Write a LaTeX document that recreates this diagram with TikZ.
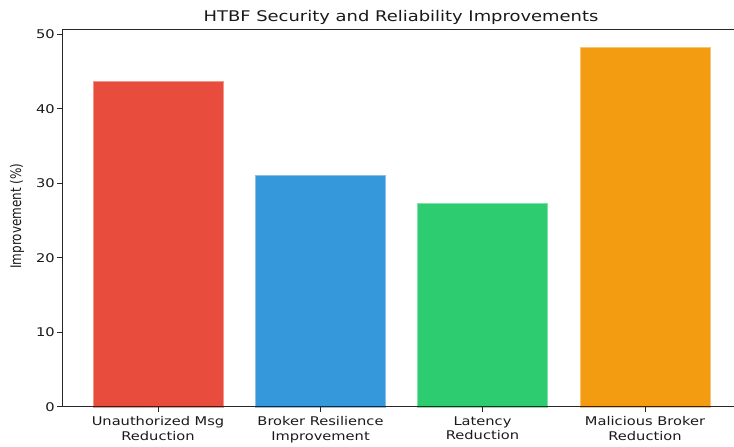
\documentclass[tikz,border=0pt]{standalone}
\usepackage{fontspec}
\setmainfont{DejaVu Sans}[FakeStretch=1.22]
\newfontfamily\uprightlabel{DejaVu Sans}
\definecolor{barred}{HTML}{E74C3C}
\definecolor{barblue}{HTML}{3498DB}
\definecolor{bargreen}{HTML}{2ECC71}
\definecolor{barorange}{HTML}{F39C12}
\definecolor{spinecol}{HTML}{262626}
\definecolor{textcol}{HTML}{1A1A1A}
\begin{document}
\begin{tikzpicture}[x=1pt,y=1pt,
  spine/.style={draw=spinecol,line width=1pt},
  tickmark/.style={draw=spinecol,line width=1pt},
  ticklabel/.style={inner sep=0pt,text=textcol,font=\fontsize{12}{14}\selectfont},
  catlabel/.style={inner sep=0pt,text=textcol,align=center,anchor=north,font=\fontsize{12}{14.5}\selectfont},
  bar/.style={fill=#1,draw=#1!60!white,line width=0.6pt}]
\useasboundingbox (0,0) rectangle (734,447);
\clip (0,0) rectangle (734,447);

% bars: value v maps to height 7.45*v above the baseline at y=40
\foreach \cx/\val/\col [count=\i] in {158/43.7/barred, 320.5/31.1/barblue, 482.5/27.4/bargreen, 645/48.3/barorange}{
  \path[bar=\col] (\cx-65,40) rectangle (\cx+65,40+7.45*\val);
  \coordinate (xt\i) at (\cx,40);
  \draw[tickmark] (xt\i) -- ++(0,-5);
}

% axes frame (open on the right)
\coordinate (origin) at (62,40);
\coordinate (topleft) at (62,417);
\coordinate (botright) at (740,40);
\coordinate (topright) at (740,417);
\draw[spine] (topleft) -- (origin) -- (botright);
\draw[spine] (topleft) -- (topright);

% y ticks and labels
\foreach \v in {0,10,20,30,40,50}{
  \coordinate (yt\v) at (62,40+7.45*\v);
  \draw[tickmark] (yt\v) -- ++(-5,0);
  \node[ticklabel,anchor=east] (yl\v) at (55,40+7.45*\v) {\v};
}

% category labels
\node[catlabel] (c1) at (xt1 |- 0,30.5) {Unauthorized Msg\\Reduction};
\node[catlabel] (c2) at (xt2 |- 0,30.5) {Broker Resilience\\Improvement};
\node[catlabel] (c3) at (xt3 |- 0,30.5) {Latency\\Reduction};
\node[catlabel] (c4) at (xt4 |- 0,30.5) {Malicious Broker\\Reduction};

% axis title and chart title
\node[inner sep=0pt,text=textcol,rotate=90] (ylab) at (17,231)
  {\scalebox{1}[1.22]{\uprightlabel\fontsize{12}{14}\selectfont Improvement (\%)}};
\node[inner sep=0pt,text=textcol,anchor=base,font=\fontsize{14.7}{17}\selectfont] (title) at (401,425)
  {HTBF Security and Reliability Improvements};
\end{tikzpicture}
\end{document}
